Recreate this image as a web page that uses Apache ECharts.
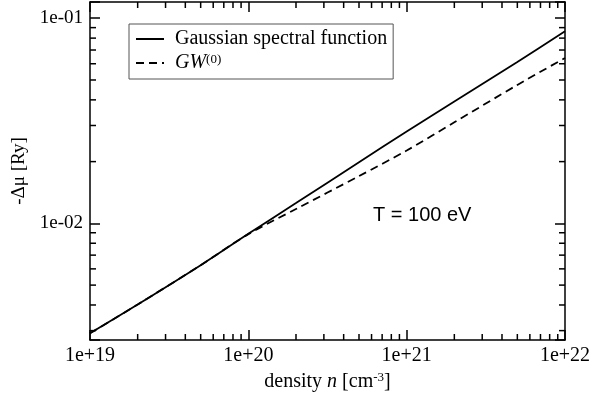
<!DOCTYPE html>
<html><head><meta charset="utf-8">
<script src="https://cdn.jsdelivr.net/npm/echarts@6/dist/echarts.min.js"></script>
<style>html,body{margin:0;padding:0;background:#fff}#c{width:609px;height:401px}</style>
</head><body><div id="c"></div>
<script>
// ---- data ----
const densities = [1e19, 2e19, 5e19, 1e20, 2e20, 5e20, 1e21, 2e21, 5e21, 1e22];
const gaussian  = [2.91e-3, 4.02e-3, 6.25e-3, 8.89e-3, 0.01256, 0.01986, 0.02805, 0.03926, 0.0612, 0.0863];
const gw0       = [2.91e-3, 4.02e-3, 6.25e-3, 8.86e-3, 0.01175, 0.0170, 0.02265, 0.0311, 0.0473, 0.064];
const xTickValues = [1e19, 1e20, 1e21, 1e22];
const xTickLabels = ['1e+19', '1e+20', '1e+21', '1e+22'];
const yTickValues = [1e-2, 1e-1];
const yTickLabels = ['1e-02', '1e-01'];
const xMinorTicks = [2e19,3e19,4e19,5e19,6e19,7e19,8e19,9e19,
                     2e20,3e20,4e20,5e20,6e20,7e20,8e20,9e20,
                     2e21,3e21,4e21,5e21,6e21,7e21,8e21,9e21];
const yMinorTicks = [3e-3,4e-3,5e-3,6e-3,7e-3,8e-3,9e-3,
                     2e-2,3e-2,4e-2,5e-2,6e-2,7e-2,8e-2,9e-2];
const xMin = 1e19, xMax = 1e22, yMin = 0.0027, yMax = 0.12;

const serif = 'Liberation Serif, Times New Roman, serif';
function labelFor(values, labels) {
  return function (v) {
    const i = values.findIndex(t => Math.abs(Math.log10(t) - Math.log10(v)) < 1e-6);
    return i >= 0 ? labels[i] : '';
  };
}
const lineStyleAxis = { color: '#000', width: 1.5 };
const tickStyle = { show: true, inside: true, length: 10, lineStyle: { color: '#000', width: 1.5 } };

const tickData = [];
xMinorTicks.forEach(v => tickData.push([v, yMin, 0]));
yMinorTicks.forEach(v => tickData.push([xMin, v, 1]));

const chart = echarts.init(document.getElementById('c'), null, { renderer: 'canvas' });
chart.setOption({
  animation: false,
  backgroundColor: '#fff',
  grid: { left: 90, right: 44, top: 2, bottom: 61, containLabel: false, outerBoundsMode: 'none' },
  title: {
    text: 'T = 100 eV', left: 373, top: 205, padding: 0,
    textStyle: { fontFamily: 'Liberation Sans, Arial, sans-serif', fontSize: 20, fontWeight: 'normal', color: '#000' }
  },
  legend: {
    data: ['Gaussian spectral function', 'GW(0)'],
    orient: 'vertical', left: 129, top: 24,
    padding: [5, 6, 6, 6], itemGap: 4, itemWidth: 28, itemHeight: 14,
    borderColor: '#555', borderWidth: 1, backgroundColor: '#fff',
    itemStyle: { color: 'rgba(0,0,0,0)', borderColor: 'rgba(0,0,0,0)', borderWidth: 0 },
    formatter: function (name) { return name === 'GW(0)' ? '{i|GW}{s|(0)}' : name; },
    textStyle: {
      fontFamily: serif, fontSize: 20, color: '#000', lineHeight: 20, padding: [0, 0, 0, 6],
      rich: {
        i: { fontFamily: serif, fontStyle: 'italic', fontSize: 20, lineHeight: 20, color: '#000' },
        s: { fontFamily: serif, fontSize: 13, verticalAlign: 'top', lineHeight: 20, color: '#000' }
      }
    }
  },
  xAxis: [{
    type: 'log', logBase: 10, min: xMin, max: xMax, position: 'bottom',
    name: '{t|density }{i|n}{t| [cm}{s|-3}{t|]}', nameLocation: 'middle', nameGap: 26,
    nameTextStyle: {
      rich: {
        t: { fontFamily: serif, fontSize: 20, color: '#000', lineHeight: 22 },
        i: { fontFamily: serif, fontSize: 20, fontStyle: 'italic', color: '#000', lineHeight: 22 },
        s: { fontFamily: serif, fontSize: 13, color: '#000', verticalAlign: 'top', lineHeight: 22 }
      }
    },
    axisLine: { show: true, lineStyle: lineStyleAxis },
    axisTick: tickStyle,
    axisLabel: { formatter: labelFor(xTickValues, xTickLabels), fontFamily: serif, fontSize: 20, color: '#000', margin: 6 },
    splitLine: { show: false }
  }, {
    type: 'log', logBase: 10, min: xMin, max: xMax, position: 'top',
    axisLine: { show: true, lineStyle: lineStyleAxis },
    axisTick: tickStyle, axisLabel: { show: false }, splitLine: { show: false }
  }],
  yAxis: [{
    type: 'log', logBase: 10, min: yMin, max: yMax, position: 'left',
    name: '-Δμ [Ry]', nameLocation: 'middle', nameGap: 60,
    nameTextStyle: { fontFamily: serif, fontSize: 19, color: '#000' },
    axisLine: { show: true, lineStyle: lineStyleAxis },
    axisTick: tickStyle,
    axisLabel: { formatter: labelFor(yTickValues, yTickLabels), fontFamily: serif, fontSize: 19, color: '#000', margin: 7 },
    splitLine: { show: false }
  }, {
    type: 'log', logBase: 10, min: yMin, max: yMax, position: 'right',
    axisLine: { show: true, lineStyle: lineStyleAxis },
    axisTick: tickStyle, axisLabel: { show: false }, splitLine: { show: false }
  }],
  series: [{
    name: 'Gaussian spectral function', type: 'line', xAxisIndex: 0, yAxisIndex: 0,
    data: densities.map((d, i) => [d, gaussian[i]]),
    showSymbol: false, symbol: 'none', smooth: 0.3,
    lineStyle: { color: '#000', width: 1.8, type: 'solid' }, itemStyle: { color: '#000' }
  }, {
    name: 'GW(0)', type: 'line', xAxisIndex: 0, yAxisIndex: 0,
    data: densities.map((d, i) => [d, gw0[i]]),
    showSymbol: false, symbol: 'none', smooth: 0.3,
    lineStyle: { color: '#000', width: 1.8, type: [8, 5] }, itemStyle: { color: '#000' }
  }, {
    type: 'custom', xAxisIndex: 0, yAxisIndex: 0, silent: true, clip: false,
    data: tickData, encode: { x: 0, y: 1 },
    renderItem: function (params, api) {
      const kind = api.value(2);
      const st = { stroke: '#000', lineWidth: 1.5 };
      if (kind === 0) {
        const v = api.value(0);
        const b = api.coord([v, yMin]), t = api.coord([v, yMax]);
        return { type: 'group', children: [
          { type: 'line', shape: { x1: b[0], y1: b[1], x2: b[0], y2: b[1] - 6 }, style: st },
          { type: 'line', shape: { x1: t[0], y1: t[1], x2: t[0], y2: t[1] + 6 }, style: st }
        ] };
      } else {
        const v = api.value(1);
        const l = api.coord([xMin, v]), r = api.coord([xMax, v]);
        return { type: 'group', children: [
          { type: 'line', shape: { x1: l[0], y1: l[1], x2: l[0] + 6, y2: l[1] }, style: st },
          { type: 'line', shape: { x1: r[0], y1: r[1], x2: r[0] - 6, y2: r[1] }, style: st }
        ] };
      }
    }
  }]
});
</script>
</body></html>
